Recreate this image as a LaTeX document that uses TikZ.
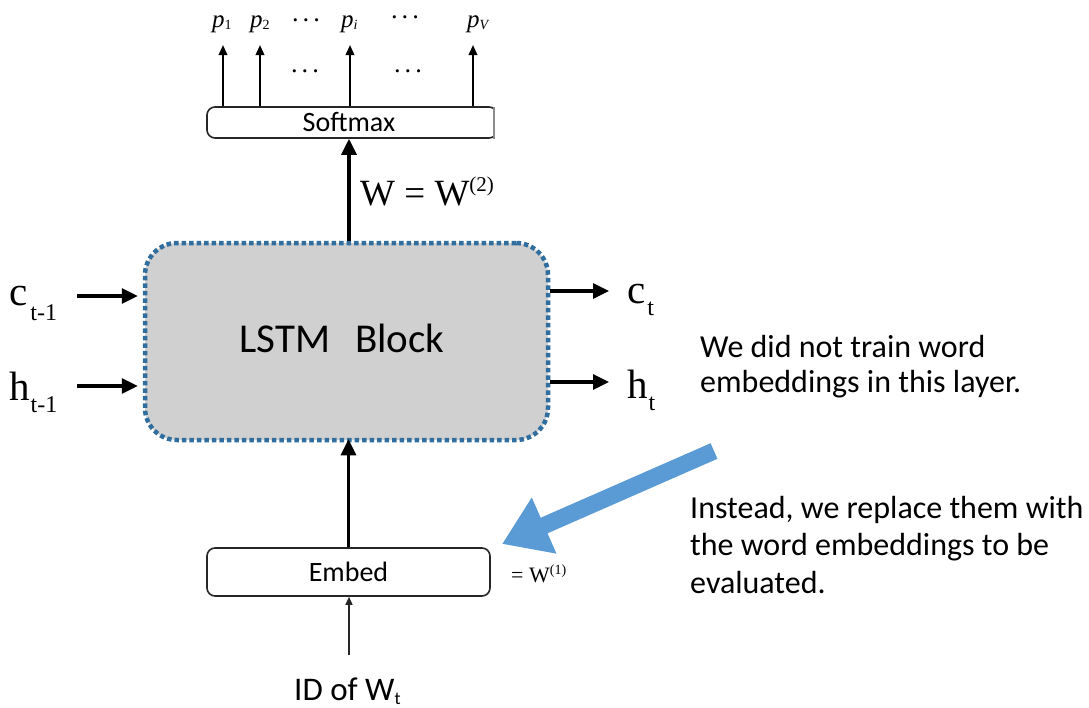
\documentclass[tikz,border=0pt]{standalone}
\usepackage{fontspec}
\setmainfont{Liberation Serif}
\newfontfamily\calib{Carlito}
\usetikzlibrary{arrows.meta}
\definecolor{dotblue}{HTML}{2F6E9E}
\definecolor{lstmgray}{HTML}{D0D0D0}
\definecolor{arrowblue}{HTML}{5B9BD5}
\begin{document}
\begin{tikzpicture}[x=1pt,y=-1pt,
  lstmbox/.style={draw=dotblue, fill=lstmgray, line width=4.5pt, dash pattern=on 4.5pt off 3pt,
    rounded corners=32pt, minimum width=403pt, minimum height=197pt, inner sep=0pt},
  layerbox/.style={draw=black!85, line width=1.6pt, rounded corners=8pt, inner sep=0pt},
  bigarrow/.style={line width=3.2pt, -{Triangle[length=16pt,width=15pt]}},
  smallarrow/.style={line width=2pt, -{Triangle[length=10pt,width=8.5pt]}},
  thinarrow/.style={line width=1.4pt, black!85, -{Triangle[length=8pt,width=7pt]}},
  fatarrow/.style={line width=17pt, arrowblue, -{Triangle[length=46pt,width=58pt]}},
  lbl/.style={inner sep=0pt, anchor=base west},
  dotsnode/.style={inner sep=0pt, font=\fontsize{22}{24}\selectfont\boldmath},
  sansnote/.style={inner sep=0pt, anchor=base west, align=left},
]
\useasboundingbox (0,0) rectangle (1089,707);

% LSTM block
\node[lstmbox] (lstm) at (346.5,341.5) {};
\node[inner sep=0pt, anchor=base] (lstmtext) at (342,352) {\calib\fontsize{41}{43}\selectfont LSTM\hspace{25pt}Block};

% Softmax box (right side cut off)
\begin{scope}
  \clip (200,100) rectangle (494.5,146);
  \node[layerbox, minimum width=290pt, minimum height=31pt] (sm) at (352,122.5) {};
\end{scope}
\draw[black!45, line width=1.6pt] (494,106.5) -- (494,138.5);
\node[inner sep=0pt] (smtext) at (349,122) {\calib\fontsize{28}{30}\selectfont Softmax};

% Embed box
\node[layerbox, minimum width=283pt, minimum height=48pt] (embed) at (348.5,572) {};
\node[inner sep=0pt] (embedtext) at (348.5,572) {\calib\fontsize{28}{30}\selectfont Embed};

% output probabilities
\node[lbl] (p1) at (212,27) {\fontsize{25}{26}\selectfont\itshape p\raisebox{-2pt}{\fontsize{14}{15}\selectfont\upshape 1}};
\node[lbl] (p2) at (250,27) {\fontsize{25}{26}\selectfont\itshape p\raisebox{-2pt}{\fontsize{14}{15}\selectfont\upshape 2}};
\node[dotsnode] (dots1) at (306,21) {$\cdots$};
\node[lbl] (pi) at (341,27) {\fontsize{25}{26}\selectfont\itshape p\raisebox{-2pt}{\fontsize{14}{15}\selectfont i}};
\node[dotsnode] (dots2) at (405,18) {$\cdots$};
\node[lbl] (pV) at (467,27) {\fontsize{25}{26}\selectfont\itshape p\raisebox{-2pt}{\fontsize{14}{15}\selectfont V}};
\node[dotsnode] (dots3) at (305,72) {$\cdots$};
\node[dotsnode] (dots4) at (408,72) {$\cdots$};

\coordinate (t1) at (223,45);
\coordinate (t2) at (260,45);
\coordinate (t3) at (350,45);
\coordinate (t4) at (473,45);
\draw[smallarrow] (sm.north -| t1) -- (t1);
\draw[smallarrow] (sm.north -| t2) -- (t2);
\draw[smallarrow] (sm.north -| t3) -- (t3);
\draw[smallarrow] (sm.north -| t4) -- (t4);

% LSTM -> Softmax
\draw[bigarrow] (lstm.north -| smtext) -- (sm.south -| smtext);
\node[lbl] (w2) at (360,205) {\fontsize{37}{40}\selectfont W = W\raisebox{14pt}{\fontsize{21}{22}\selectfont (2)}};

% inputs / outputs
\node[lbl] (cprev) at (9,305) {\fontsize{41}{43}\selectfont c\hspace{3pt}\raisebox{-15pt}{\fontsize{24}{26}\selectfont t-1}};
\node[lbl] (hprev) at (9,400) {\fontsize{41}{43}\selectfont h\hspace{1pt}\raisebox{-12pt}{\fontsize{24}{26}\selectfont t-1}};
\coordinate (cin) at (77,296);
\coordinate (hin) at (77,386);
\draw[bigarrow] (cin) -- ([xshift=-5pt]lstm.west |- cin);
\draw[bigarrow] (hin) -- ([xshift=-5pt]lstm.west |- hin);

\coordinate (cout) at (609,291);
\coordinate (hout) at (609,382);
\draw[bigarrow] (lstm.east |- cout) -- (cout);
\draw[bigarrow] (lstm.east |- hout) -- (hout);
\node[lbl] (cnext) at (627,303) {\fontsize{41}{43}\selectfont c\hspace{2pt}\raisebox{-12pt}{\fontsize{24}{26}\selectfont t}};
\node[lbl] (hnext) at (627,398) {\fontsize{41}{43}\selectfont h\hspace{1pt}\raisebox{-12pt}{\fontsize{24}{26}\selectfont t}};

% Embed -> LSTM
\draw[bigarrow] (embed.north) -- ([yshift=3pt]lstm.south -| embed.north);
\node[lbl] (w1) at (511,582) {\fontsize{22}{24}\selectfont = W\raisebox{8pt}{\fontsize{14}{15}\selectfont (1)}};

% ID input
\node[lbl] (id) at (294,700) {\calib\fontsize{33}{35}\selectfont ID of W\raisebox{-4pt}{\fontsize{18}{19}\selectfont t}};
\coordinate (idtop) at (349,655);
\draw[thinarrow] (idtop) -- (embed.south -| idtop);

% notes
\node[sansnote, font=\calib\fontsize{32}{35}\selectfont] (note1) at (700,392) {We did not train word\\embeddings in this layer.};
\node[sansnote, font=\calib\fontsize{32}{37.5}\selectfont] (note2) at (690,593) {Instead, we replace them with\\the word embeddings to be\\evaluated.};

% blue arrow
\coordinate (bstart) at (714,451);
\coordinate (btip) at (502,544);
\draw[fatarrow] (bstart) -- (btip);
\end{tikzpicture}
\end{document}
